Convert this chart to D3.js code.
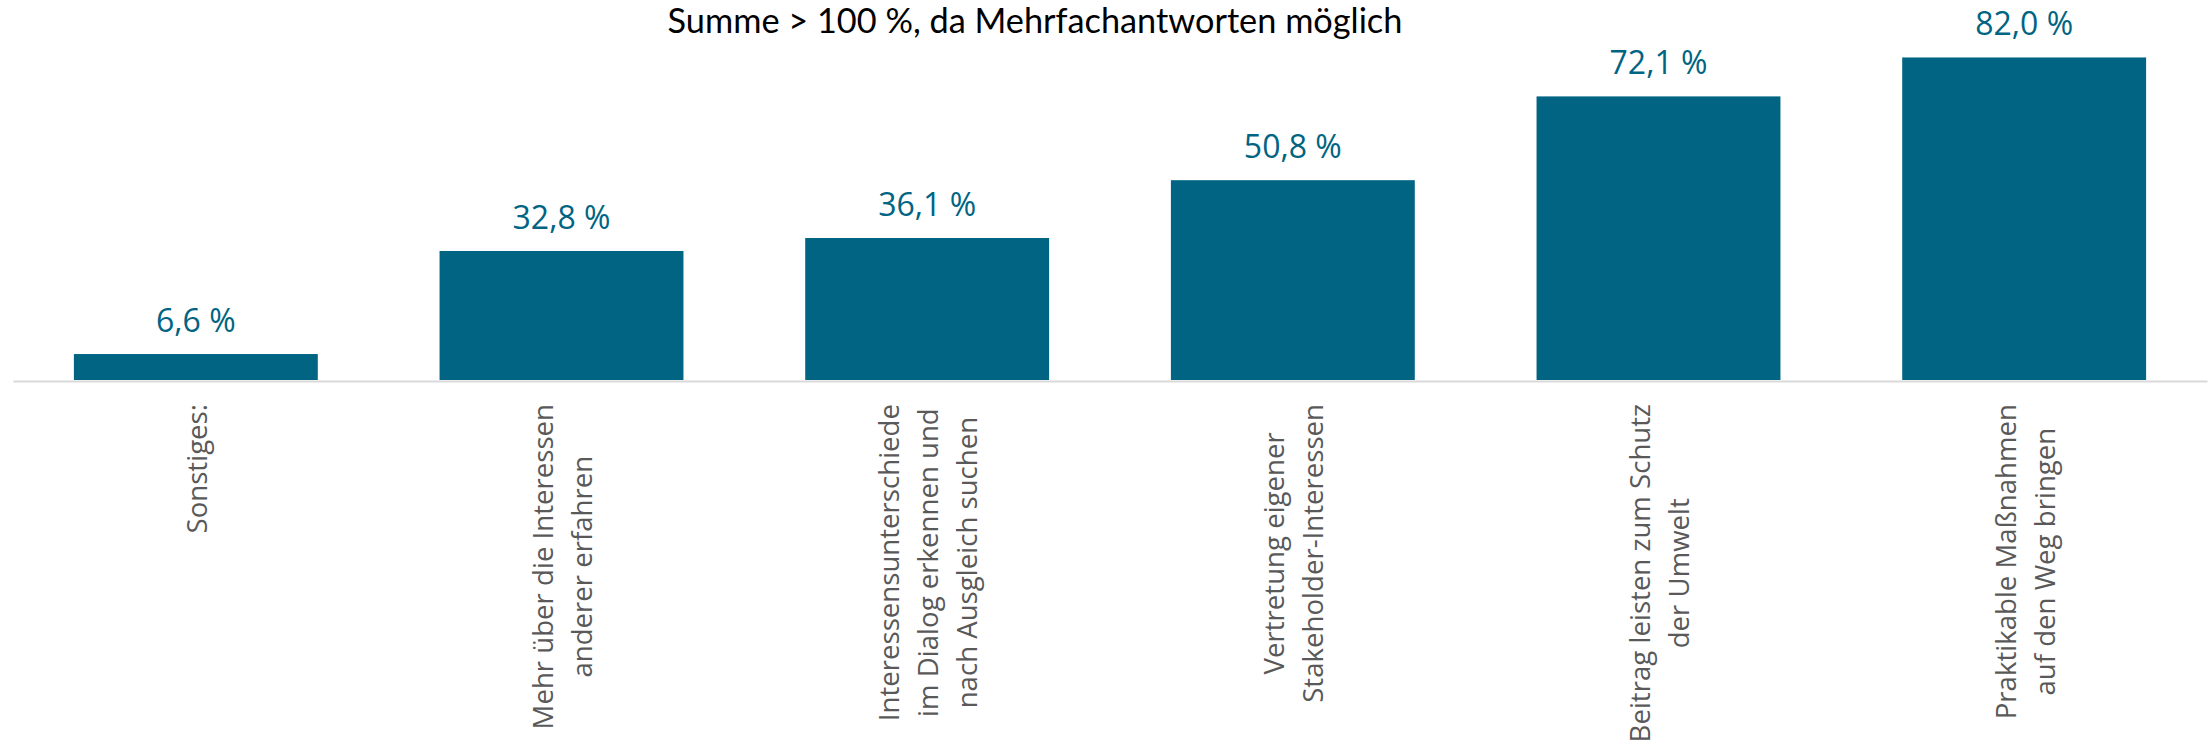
<!DOCTYPE html>
<html>
<head>
<meta charset="utf-8">
<script src="https://cdn.jsdelivr.net/npm/d3@7"></script>
<style>
  html, body { margin: 0; padding: 0; background: #fff; }
  svg { display: block; }
</style>
</head>
<body>
<svg id="chart" width="2209" height="742"></svg>
<script>
// data
const categories = [
  ['Sonstiges:'],
  ['Mehr über die Interessen', 'anderer erfahren'],
  ['Interessensunterschiede', 'im Dialog erkennen und', 'nach Ausgleich suchen'],
  ['Vertretung eigener', 'Stakeholder-Interessen'],
  ['Beitrag leisten zum Schutz', 'der Umwelt'],
  ['Praktikable Maßnahmen', 'auf den Weg bringen']
];
const values = [6.6, 32.8, 36.1, 50.8, 72.1, 82.0];
const title = 'Summe > 100 %, da Mehrfachantworten möglich';

const svg = d3.select('#chart');
const barColor = '#006482';

const x = d3.scaleBand()
  .domain(d3.range(values.length))
  .range([13, 2207])
  .paddingInner(0.333)
  .paddingOuter(0.1665);

const y = d3.scaleLinear().domain([0, 90]).range([380, 26]);

const fmt = v => d3.format('.1f')(v).replace('.', ',') + ' %';

// title
svg.append('text')
  .attr('x', 1035)
  .attr('y', 33)
  .attr('text-anchor', 'middle')
  .style('font-family', 'Lato, "Open Sans", sans-serif')
  .style('font-size', '34.3px')
  .style('fill', '#000')
  .text(title);

// bars
svg.append('g').selectAll('rect')
  .data(values)
  .join('rect')
  .attr('x', (d, i) => x(i))
  .attr('y', d => y(d))
  .attr('width', x.bandwidth())
  .attr('height', d => y(0) - y(d))
  .attr('fill', barColor);

// value labels
svg.append('g').selectAll('text')
  .data(values)
  .join('text')
  .attr('x', (d, i) => x(i) + x.bandwidth() / 2)
  .attr('y', d => y(d) - 22)
  .attr('text-anchor', 'middle')
  .style('font-family', '"Open Sans", sans-serif')
  .style('font-size', '32px')
  .style('fill', barColor)
  .text(fmt);

// category axis: baseline only, labels drawn rotated below
const axis = svg.append('g').attr('transform', `translate(0,${y(0) + 1})`)
  .call(d3.axisBottom(x).tickSize(0).tickFormat(''));
axis.select('.domain').attr('stroke', '#d9d9d9').attr('stroke-width', 2);

const lineGap = 39;
const labelTop = 404;
const labels = svg.append('g');
categories.forEach((lines, i) => {
  const cx = x(i) + x.bandwidth() / 2;
  const g = labels.append('g');
  const texts = lines.map(ln => g.append('text')
    .attr('text-anchor', 'middle')
    .attr('dominant-baseline', 'central')
    .style('font-family', '"Open Sans", sans-serif')
    .style('font-size', '27.6px')
    .style('fill', '#595959')
    .text(ln));
  // lines are centred on each other, the longest one starts just below the axis
  const maxLen = d3.max(texts, t => t.node().getComputedTextLength());
  texts.forEach((t, j) => {
    const lx = cx + (j - (lines.length - 1) / 2) * lineGap;
    const ly = labelTop + maxLen / 2;
    t.attr('transform', `translate(${lx},${ly}) rotate(-90)`);
  });
});
</script>
</body>
</html>
